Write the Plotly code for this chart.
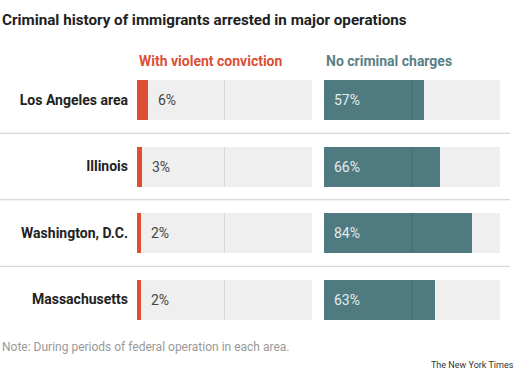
import plotly.graph_objects as go

W, H = 528, 373

title = "Criminal history of immigrants arrested in major operations"
areas = ["Los Angeles area", "Illinois", "Washington, D.C.", "Massachusetts"]
violent = [6, 3, 2, 2]
no_charges = [57, 66, 84, 63]
panel_titles = ["With violent conviction", "No criminal charges"]
note = "Note: During periods of federal operation in each area."
source = "The New York Times"

RED = "#dc4f35"
TEAL = "#4f7a80"
TEAL_TXT = "#5a7f86"
BG = "#efefef"
FONT = "Roboto"

def px(x):
    return x / W

def py(y):
    return 1 - y / H

fig = go.Figure()
full = [100] * len(areas)
BW = 0.6

# background tracks
for xa in ("x", "x2"):
    fig.add_trace(go.Bar(y=areas, x=full, orientation="h", width=BW,
                         marker=dict(color=BG, line=dict(width=0)),
                         xaxis=xa, yaxis="y" if xa == "x" else "y2",
                         hoverinfo="skip", showlegend=False))

fig.add_trace(go.Bar(y=areas, x=violent, orientation="h", width=BW,
                     marker=dict(color=RED, line=dict(width=0)),
                     text=[f"\u00a0\u00a0{v}%" for v in violent],
                     textposition="outside", constraintext="none", cliponaxis=False,
                     textfont=dict(family=FONT, size=14, color="#444"),
                     xaxis="x", yaxis="y", showlegend=False))

fig.add_trace(go.Bar(y=areas, x=no_charges, orientation="h", width=BW,
                     marker=dict(color=TEAL, line=dict(width=0)),
                     text=[f"\u00a0\u00a0{v}%" for v in no_charges],
                     textposition="inside", insidetextanchor="start", constraintext="none",
                     textangle=0,
                     textfont=dict(family=FONT, size=14, color="#e4ecee"),
                     xaxis="x2", yaxis="y2", showlegend=False))

shapes = []
for i in range(len(areas)):
    for xr, yr in (("x", "y"), ("x2", "y2")):
        shapes.append(dict(type="line", xref=xr, yref=yr, x0=50, x1=50,
                           y0=i - BW / 2, y1=i + BW / 2, layer="above",
                           line=dict(color="rgba(0,0,0,0.10)", width=1)))
for i in range(len(areas) - 1):
    shapes.append(dict(type="line", xref="paper", yref="y", x0=0, x1=px(510),
                       y0=i + 0.5, y1=i + 0.5, line=dict(color="#cccccc", width=1)))

ydom = [py(332.75), py(66.75)]
yax = dict(domain=ydom, range=[len(areas) - 0.5, -0.5], type="category",
           categoryorder="array", categoryarray=areas,
           showgrid=False, zeroline=False, showline=False, ticks="")

annotations = [
    dict(text=f"<b>{title}</b>", x=0, y=py(20), xref="paper", yref="paper",
         xanchor="left", yanchor="middle", showarrow=False,
         font=dict(family=FONT, size=15.2, color="#222")),
    dict(text=f"<b>{panel_titles[0]}</b>", x=0, y=py(61), xref="x domain", yref="paper",
         xanchor="left", yanchor="middle", showarrow=False,
         font=dict(family=FONT, size=14, color=RED)),
    dict(text=f"<b>{panel_titles[1]}</b>", x=0, y=py(61), xref="x2 domain", yref="paper",
         xanchor="left", yanchor="middle", showarrow=False,
         font=dict(family=FONT, size=14, color=TEAL_TXT)),
    dict(text=note, x=0, y=py(347), xref="paper", yref="paper",
         xanchor="left", yanchor="middle", showarrow=False,
         font=dict(family=FONT, size=12, color="#999")),
    dict(text=source, x=px(516), y=py(365), xref="paper", yref="paper",
         xanchor="right", yanchor="middle", showarrow=False,
         font=dict(family=FONT, size=9, color="#333")),
]

fig.update_layout(
    width=W, height=H, margin=dict(l=0, r=0, t=0, b=0),
    paper_bgcolor="white", plot_bgcolor="white",
    barmode="overlay", bargap=0,
    xaxis=dict(domain=[px(137), px(312)], range=[0, 100], visible=False),
    xaxis2=dict(domain=[px(324), px(500)], range=[0, 100], visible=False),
    yaxis=dict(**yax, anchor="x", showticklabels=True, ticklabelstandoff=8,
               tickfont=dict(family=FONT, size=14, color="#222", weight="bold")),
    yaxis2=dict(**yax, anchor="x2", showticklabels=False),
    shapes=shapes, annotations=annotations,
)

fig.write_html("out.html", config={"displayModeBar": False},
               post_script="document.body.style.margin='0';document.body.style.padding='0';document.body.style.overflow='hidden';")
